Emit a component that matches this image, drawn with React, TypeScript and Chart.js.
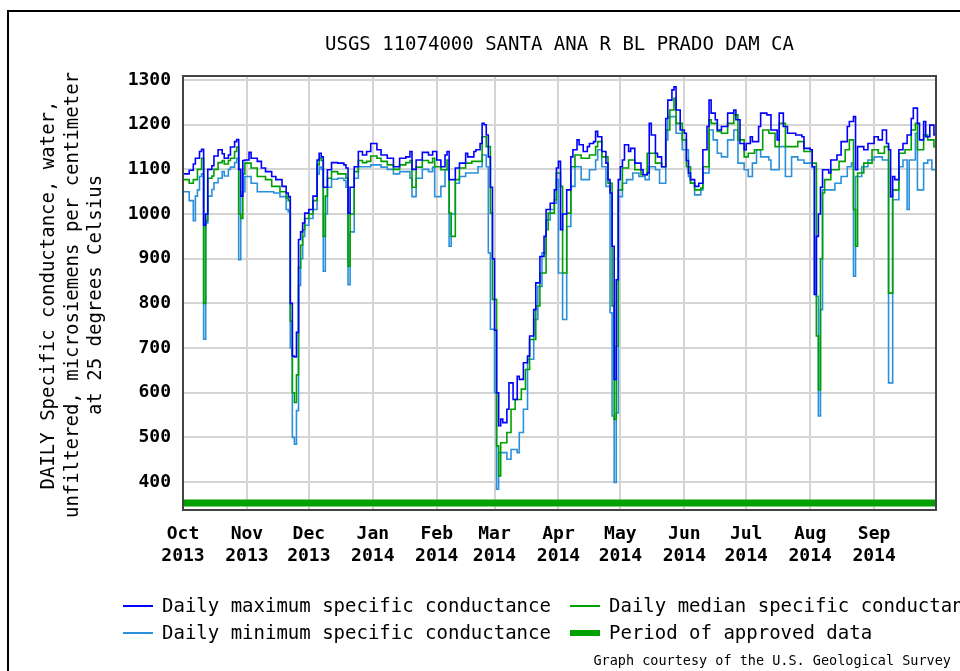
import React, { useEffect, useRef } from "react";
import { Chart, registerables } from "chart.js";

Chart.register(...registerables);

const TITLE = "USGS 11074000 SANTA ANA R BL PRADO DAM CA";
const Y_TITLE = [
  "DAILY Specific conductance, water,",
  "unfiltered, microsiemens per centimeter",
  "at 25 degrees Celsius",
];

const monthTickDays = [0, 31, 61, 92, 123, 151, 182, 212, 243, 273, 304, 335];
const monthLabels = ["Oct", "Nov", "Dec", "Jan", "Feb", "Mar", "Apr", "May", "Jun", "Jul", "Aug", "Sep"];
const yearLabels = ["2013", "2013", "2013", "2014", "2014", "2014", "2014", "2014", "2014", "2014", "2014", "2014"];
const yTicks = [400, 500, 600, 700, 800, 900, 1000, 1100, 1200, 1300];

// Daily maximum specific conductance (day index from 1 Oct 2013)
const maxDays = [0, 3, 5, 6, 8, 9, 10, 11, 12, 14, 15, 17, 19, 20, 22, 23, 25, 26, 27, 28, 29, 30, 32, 33, 36, 38, 40, 43, 45, 48, 50, 51, 52, 53, 54, 55, 56, 57, 58, 59, 61, 63, 65, 66, 67, 68, 69, 70, 72, 75, 78, 79, 80, 81, 83, 85, 87, 89, 91, 94, 96, 99, 102, 105, 108, 110, 111, 113, 116, 119, 121,
  123, 125, 127, 128, 129, 130, 132, 134, 137, 138, 141, 142, 144, 145, 146, 147, 148, 149, 150, 151, 152, 153, 154, 155, 157, 158, 160, 162, 163, 165, 167, 168, 170, 171, 173, 175, 176, 178, 180, 181, 182, 183, 184, 186, 188, 189, 191, 192, 194, 196, 197, 199, 200, 201, 203, 205, 206, 207, 208, 209, 210, 211, 212, 213, 214, 216, 217, 219, 222, 223, 225, 226, 227, 229, 230, 232, 234, 235, 237, 238, 239, 241, 243,
  244, 245, 246, 248, 250, 252, 254, 255, 256, 258, 259, 261, 263, 264, 267, 268, 270, 272, 273, 275, 276, 279, 280, 283, 285, 288, 289, 291, 293, 295, 297, 300, 301, 304, 305, 306, 307, 308, 309, 310, 311, 313, 314, 317, 319, 322, 323, 325, 326, 327, 330, 332, 335, 337, 339, 341, 342, 343, 344, 345, 347, 349, 351, 353, 354, 356, 357, 359, 360, 362, 364, 365];
const maxVals = [1090, 1098, 1112, 1125, 1140, 1145, 975, 1000, 1100, 1108, 1130, 1144, 1135, 1125, 1132, 1150, 1162, 1167, 1100, 1040, 1120, 1121, 1138, 1125, 1118, 1103, 1095, 1084, 1077, 1062, 1047, 1039, 800, 682, 680, 735, 943, 960, 980, 1002, 1010, 1040, 1121, 1136, 1128, 1060, 1060, 1099, 1115, 1114, 1110, 1103, 1002, 1060, 1106, 1140, 1132, 1140, 1158, 1144, 1132, 1125, 1106, 1125, 1128, 1140, 1100, 1121, 1138, 1132, 1140,
  1121, 1106, 1132, 1140, 1077, 1077, 1103, 1114, 1136, 1128, 1140, 1144, 1158, 1203, 1200, 1177, 1128, 1060, 900, 740, 600, 526, 541, 533, 563, 622, 585, 637, 630, 667, 682, 727, 786, 846, 905, 950, 1010, 1024, 1054, 1103, 1118, 965, 1000, 1054, 1128, 1144, 1166, 1155, 1140, 1151, 1158, 1162, 1185, 1173, 1140, 1114, 1077, 1047, 928, 630, 853, 1077, 1106, 1121, 1155, 1140, 1147, 1114, 1099, 1088, 1092, 1203, 1177, 1136, 1128, 1106, 1214, 1255, 1278, 1285, 1233, 1188, 1181,
  1120, 1092, 1077, 1062, 1069, 1144, 1196, 1255, 1226, 1211, 1188, 1196, 1196, 1226, 1233, 1211, 1158, 1144, 1158, 1173, 1162, 1196, 1226, 1222, 1188, 1166, 1226, 1196, 1181, 1181, 1177, 1173, 1147, 1144, 1106, 820, 950, 1000, 1060, 1099, 1099, 1092, 1121, 1132, 1162, 1196, 1207, 1218, 1099, 1151, 1144, 1158, 1173, 1166, 1188, 1158, 1144, 1039, 1084, 1077, 1144, 1158, 1177, 1214, 1237, 1203, 1166, 1207, 1173, 1199, 1177, 1173];

// Daily median specific conductance
const medDays = [0, 3, 5, 7, 9, 10, 11, 12, 14, 15, 17, 19, 20, 22, 23, 25, 26, 27, 28, 29, 30, 33, 36, 40, 43, 47, 50, 51, 52, 53, 54, 55, 56, 57, 58, 59, 61, 63, 65, 66, 67, 68, 69, 70, 72, 75, 78, 79, 80, 81, 83, 85, 87, 89, 91, 94, 96, 99, 102, 105, 108, 110, 111, 113, 116, 119, 121,
  122, 125, 128, 129, 130, 132, 134, 137, 140, 143, 145, 147, 149, 150, 152, 153, 154, 157, 159, 161, 164, 166, 168, 171, 173, 176, 177, 180, 181, 183, 184, 186, 188, 190, 193, 197, 200, 201, 203, 206, 208, 209, 210, 211, 213, 216, 219, 222, 225, 229, 232, 234, 236, 238, 239, 242, 244,
  246, 248, 251, 252, 255, 256, 259, 261, 264, 267, 269, 272, 274, 277, 281, 284, 287, 289, 292, 295, 298, 301, 305, 307, 308, 309, 310, 311, 314, 318, 321, 323, 325, 326, 327, 330, 334, 337, 340, 342, 344, 347, 350, 353, 355, 356, 359, 361, 364, 365];
const medVals = [1077, 1069, 1077, 1100, 1125, 800, 985, 1080, 1085, 1100, 1115, 1120, 1112, 1120, 1125, 1140, 1150, 1000, 990, 1090, 1114, 1103, 1084, 1077, 1062, 1050, 1036, 1030, 760, 600, 578, 640, 880, 930, 965, 990, 1000, 1030, 1110, 1125, 1120, 950, 1040, 1080, 1095, 1090, 1090, 1080, 883, 1000, 1095, 1120, 1115, 1118, 1130, 1125, 1118, 1110, 1100, 1110, 1115, 1120, 1060, 1105, 1120, 1115, 1125,
  1106, 1099, 1121, 1002, 950, 1077, 1103, 1114, 1118, 1118, 1173, 1151, 1002, 809, 481, 414, 488, 511, 563, 585, 608, 652, 719, 794, 868, 965, 1002, 1032, 1092, 1062, 868, 1002, 1106, 1132, 1125, 1132, 1151, 1162, 1128, 1069, 794, 540, 704, 1054, 1103, 1121, 1099, 1088, 1136, 1114, 1106, 1188, 1233, 1259, 1203, 1166, 1106,
  1069, 1054, 1058, 1106, 1211, 1203, 1185, 1181, 1203, 1222, 1166, 1128, 1136, 1144, 1188, 1181, 1151, 1203, 1151, 1151, 1162, 1140, 1114, 727, 607, 900, 1047, 1077, 1099, 1118, 1144, 1166, 1010, 928, 1092, 1114, 1144, 1136, 1151, 823, 1054, 1136, 1144, 1188, 1203, 1144, 1177, 1166, 1151, 1158];

// Daily minimum specific conductance
const minDays = [0, 3, 5, 6, 7, 8, 9, 10, 11, 12, 14, 15, 17, 19, 20, 22, 23, 25, 26, 27, 28, 30, 33, 36, 40, 44, 47, 50, 51, 52, 53, 54, 55, 56, 57, 58, 59, 61, 63, 65, 66, 67, 68, 69, 70, 72, 75, 78, 79, 80, 81, 83, 85, 87, 89, 91, 94, 96, 99, 102, 105, 108, 110, 111, 113, 116, 119, 121,
  122, 125, 127, 129, 130, 132, 134, 137, 140, 143, 145, 147, 148, 149, 151, 152, 153, 155, 157, 159, 162, 163, 165, 167, 170, 172, 174, 176, 178, 180, 181, 182, 184, 186, 188, 190, 193, 197, 200, 201, 203, 205, 207, 208, 209, 210, 211, 213, 215, 218, 221, 224, 226, 229, 231, 234, 235, 239, 242, 245,
  246, 248, 251, 252, 255, 257, 259, 261, 264, 267, 269, 272, 274, 276, 278, 280, 284, 285, 289, 292, 295, 298, 301, 305, 307, 308, 309, 310, 313, 316, 319, 322, 324, 325, 326, 329, 332, 335, 339, 341, 342, 344, 347, 349, 351, 352, 355, 356, 359, 361, 363, 365];
const minVals = [1050, 1030, 985, 1040, 1054, 1084, 1090, 720, 980, 1040, 1055, 1070, 1080, 1095, 1085, 1100, 1105, 1115, 1125, 898, 1050, 1084, 1069, 1050, 1050, 1047, 1039, 1010, 1005, 700, 500, 485, 560, 840, 900, 950, 975, 990, 1010, 1090, 1105, 1100, 872, 1000, 1060, 1078, 1080, 1075, 1060, 842, 960, 1080, 1106, 1106, 1106, 1110, 1110, 1105, 1100, 1090, 1095, 1095, 1080, 1039, 1080, 1100, 1095, 1105,
  1039, 1062, 1099, 928, 1000, 1069, 1084, 1092, 1092, 1106, 1132, 1106, 913, 742, 600, 384, 466, 466, 451, 473, 466, 511, 563, 675, 764, 838, 913, 987, 1010, 1024, 1077, 868, 764, 972, 1062, 1106, 1077, 1099, 1121, 1144, 1106, 1062, 779, 548, 399, 555, 1039, 1069, 1077, 1092, 1084, 1077, 1106, 1099, 1069, 1166, 1218, 1181, 1144, 1084,
  1069, 1043, 1054, 1092, 1188, 1166, 1136, 1128, 1166, 1188, 1114, 1099, 1084, 1114, 1144, 1128, 1121, 1099, 1151, 1084, 1128, 1121, 1114, 1106, 816, 548, 786, 1054, 1054, 1069, 1084, 1106, 1114, 861, 1084, 1106, 1121, 1128, 1121, 1121, 622, 1032, 1106, 1121, 1010, 1121, 1181, 1054, 1114, 1121, 1099, 1099];

// Period of approved data
const approvedDays = [0, 365];
const approvedVals = [353, 353];

const FONT = "'DejaVu Sans Mono', monospace";

function pts(xs: number[], ys: number[]) {
  return xs.map((x, i) => ({ x, y: ys[i] }));
}

const decorPlugin = {
  id: "decor",
  afterDraw(chart: any) {
    const ctx = chart.ctx as CanvasRenderingContext2D;
    const a = chart.chartArea;
    ctx.save();
    // outer frame
    ctx.strokeStyle = "#000";
    ctx.lineWidth = 2;
    ctx.beginPath();
    ctx.moveTo(8, 671);
    ctx.lineTo(8, 11);
    ctx.lineTo(960, 11);
    ctx.stroke();
    // plot border
    ctx.strokeStyle = "#444";
    ctx.lineWidth = 2;
    ctx.strokeRect(a.left, a.top, a.right - a.left, a.bottom - a.top);
    // title
    ctx.fillStyle = "#000";
    ctx.font = `19px ${FONT}`;
    ctx.textAlign = "center";
    ctx.textBaseline = "middle";
    ctx.fillText(TITLE, (a.left + a.right) / 2, 45);
    // y title
    const xs = [49, 73, 96];
    Y_TITLE.forEach((t, i) => {
      ctx.save();
      ctx.translate(xs[i], 295);
      ctx.rotate(-Math.PI / 2);
      ctx.fillText(t, 0, 0);
      ctx.restore();
    });
    // legend
    ctx.textAlign = "left";
    const rows = [607, 634];
    const legendItems = [
      { x: 123, y: rows[0], color: "#0000ff", w: 2, text: "Daily maximum specific conductance" },
      { x: 570, y: rows[0], color: "#00a000", w: 2, text: "Daily median specific conductance" },
      { x: 123, y: rows[1], color: "#2a90dc", w: 2, text: "Daily minimum specific conductance" },
      { x: 570, y: rows[1], color: "#00a000", w: 6, text: "Period of approved data" },
    ];
    legendItems.forEach((it) => {
      ctx.strokeStyle = it.color;
      ctx.lineWidth = it.w;
      ctx.beginPath();
      ctx.moveTo(it.x, it.y - 1);
      ctx.lineTo(it.x + 30, it.y - 1);
      ctx.stroke();
      ctx.fillStyle = "#000";
      ctx.fillText(it.text, it.x + 39, it.y);
    });
    // footer
    ctx.font = `13.5px ${FONT}`;
    ctx.textAlign = "right";
    ctx.fillText("Graph courtesy of the U.S. Geological Survey", 951, 661);
    ctx.restore();
  },
};

export default function App() {
  const ref = useRef<HTMLCanvasElement | null>(null);
  useEffect(() => {
    if (!ref.current) return;
    const tickFont = { family: FONT, size: 18, weight: "bold" as const, lineHeight: 1.22 };
    const chart = new Chart(ref.current, {
      type: "line",
      data: {
        datasets: [
          { label: "Daily maximum specific conductance", data: pts(maxDays, maxVals), borderColor: "#0000ff", borderWidth: 1.6, stepped: true, pointRadius: 0, fill: false },
          { label: "Daily median specific conductance", data: pts(medDays, medVals), borderColor: "#00a000", borderWidth: 1.6, stepped: true, pointRadius: 0, fill: false },
          { label: "Daily minimum specific conductance", data: pts(minDays, minVals), borderColor: "#2a90dc", borderWidth: 1.6, stepped: true, pointRadius: 0, fill: false },
          { label: "Period of approved data", data: pts(approvedDays, approvedVals), borderColor: "#00a000", borderWidth: 7, pointRadius: 0, fill: false },
        ],
      },
      options: {
        animation: false,
        responsive: false,
        maintainAspectRatio: false,
        parsing: false as any,
        layout: { padding: { left: 0, right: 24, top: 76, bottom: 0 } },
        plugins: { legend: { display: false }, title: { display: false }, tooltip: { enabled: false } },
        scales: {
          x: {
            type: "linear",
            min: 0,
            max: 365,
            afterBuildTicks: (s: any) => {
              s.ticks = monthTickDays.map((v) => ({ value: v }));
            },
            afterFit: (s: any) => {
              s.height = 161;
            },
            grid: { color: "#d4d4d4", lineWidth: 2, drawTicks: false },
            border: { display: false },
            ticks: {
              autoSkip: false,
              maxRotation: 0,
              padding: 13,
              color: "#000",
              font: tickFont,
              callback: (_v: any, i: number) => [monthLabels[i], yearLabels[i]],
            },
          },
          y: {
            type: "linear",
            min: 337.5,
            max: 1309,
            afterBuildTicks: (s: any) => {
              s.ticks = yTicks.map((v) => ({ value: v }));
            },
            afterFit: (s: any) => {
              s.width = 183;
            },
            grid: { color: "#d4d4d4", lineWidth: 2, drawTicks: false },
            border: { display: false },
            ticks: {
              padding: 12,
              color: "#000",
              font: tickFont,
              callback: (v: any) => String(v),
            },
          },
        },
      },
      plugins: [decorPlugin],
    } as any);
    return () => chart.destroy();
  }, []);
  return (
    <div style={{ position: "absolute", left: 0, top: 0, width: 960, height: 671, background: "#fff" }}>
      <canvas ref={ref} width={960} height={671} style={{ display: "block", width: 960, height: 671 }} />
    </div>
  );
}
